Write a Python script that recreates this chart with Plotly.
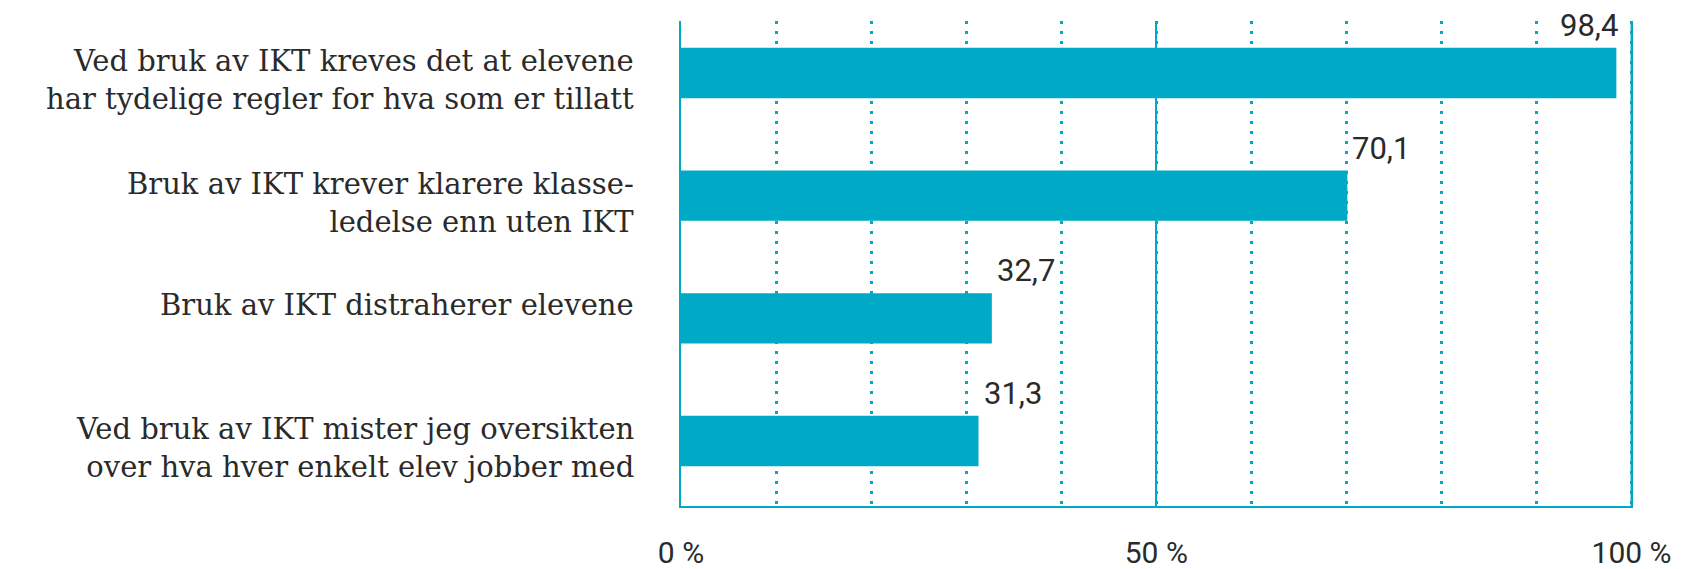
import plotly.graph_objects as go

# ── data ──
categories = [
    "Ved bruk av IKT kreves det at elevene<br>har tydelige regler for hva som er tillatt",
    "Bruk av IKT krever klarere klasse-<br>ledelse enn uten IKT",
    "Bruk av IKT distraherer elevene",
    "Ved bruk av IKT mister jeg oversikten<br>over hva hver enkelt elev jobber med",
]
values = [98.4, 70.1, 32.7, 31.3]
tick_vals = [0, 50, 100]
tick_text = ["0 %", "50 %", "100 %"]

TEAL = "#00a9c5"
TEXT = "#2a2a2a"

fig = go.Figure()
fig.add_trace(go.Bar(
    x=values, y=categories, orientation="h",
    marker=dict(color=TEAL, line=dict(width=0)),
    width=0.41, hoverinfo="skip",
))

# value labels above the bar ends
for v, c in zip(values, categories):
    near_end = v > 90
    fig.add_annotation(
        x=v, y=c, text=f"{v:.1f}".replace(".", ","),
        showarrow=False,
        xanchor="right" if near_end else "left",
        xshift=4 if near_end else 3,
        yanchor="bottom", yshift=27,
        font=dict(family="Roboto", size=31, color=TEXT),
    )

# category labels as annotations (single-line labels sit a bit higher)
for c in categories:
    one_line = "<br>" not in c
    fig.add_annotation(
        x=0, xref="paper", y=c, text=c, showarrow=False,
        xanchor="right", align="right", xshift=-45,
        yshift=13 if one_line else -7,
        font=dict(family="DejaVu Serif", size=29, color=TEXT),
    )

# solid line at 100 %
fig.add_shape(type="line", x0=100, x1=100, y0=0, y1=1, yref="paper",
              line=dict(color=TEAL, width=2))

fig.update_xaxes(
    range=[0, 100.15],
    tickvals=tick_vals, ticktext=tick_text,
    showgrid=True, gridcolor=TEAL, gridwidth=2,
    minor=dict(dtick=10, showgrid=True, gridcolor=TEAL, gridwidth=3,
               griddash="3px,7px"),
    showline=True, linecolor=TEAL, linewidth=2,
    ticks="", ticklabelstandoff=19, automargin=False,
    tickfont=dict(family="Roboto", size=30, color=TEXT),
    zeroline=False, fixedrange=True,
)
fig.update_yaxes(
    type="category", categoryorder="array", categoryarray=categories,
    range=[3.53, -0.424],
    showgrid=False, showline=True, linecolor=TEAL, linewidth=2,
    ticks="", showticklabels=False, automargin=False,
    fixedrange=True,
)

# page body adds an 8px offset, so the figure is sized to compensate
fig.update_layout(
    width=1680, height=561,
    margin=dict(l=673, r=55, t=13, b=63),
    plot_bgcolor="#ffffff", paper_bgcolor="#ffffff",
    showlegend=False,
)

fig.write_html("out.html")
